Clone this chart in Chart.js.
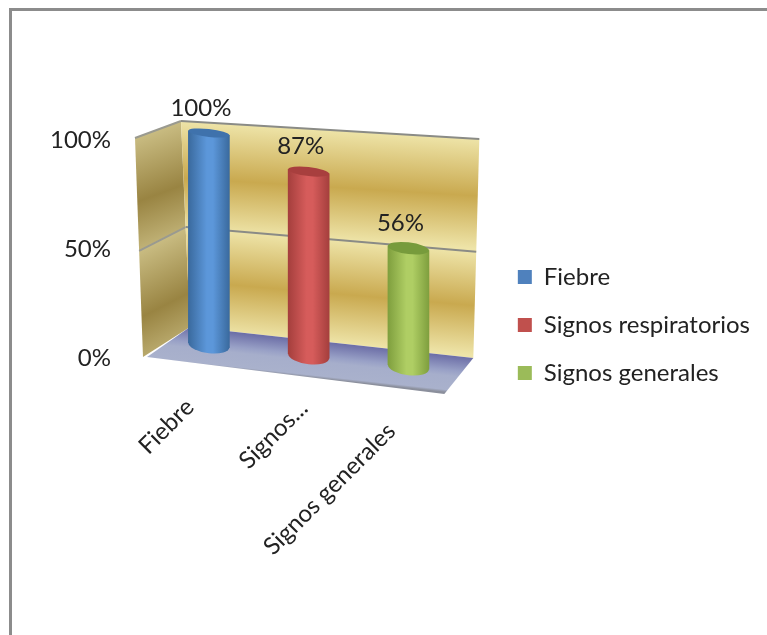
<!DOCTYPE html>
<html>
<head>
<meta charset="utf-8">
<title>Signos</title>
<script src="https://cdn.jsdelivr.net/npm/chart.js@4"></script>
<style>
  html, body { margin: 0; height: 100%; background: #fff; overflow: hidden; }
  #frame { position: absolute; left: 9px; top: 8px; width: 800px; height: 700px; border-left: 3px solid #8c8c8c; border-top: 3px solid #8c8c8c; }
  #wrap { position: absolute; left: 0; top: 0; width: 767px; height: 635px; }
</style>
</head>
<body>
<div id="frame"></div>
<div id="wrap"><canvas id="myChart" width="767" height="635"></canvas></div>
<script>
const categories = ["Fiebre", "Signos respiratorios", "Signos generales"]
const tickLabels = ["Fiebre", "Signos...", "Signos generales"]
const values = [100, 87, 56]
const axisTicks = [0, 50, 100]

const legendColors = ["#4F81BD", "#C0504D", "#9BBB59"]
// edge, highlight and cap shades of each cylinder
const barEdges = ["#3A6A9E", "#A53F3D", "#7F9F3E"]
const barLights = ["#5C97DA", "#D65C5B", "#AFCE64"]
const barCaps = ["#3F72AC", "#A83F3E", "#779B3C"]

const TEXT_FONT = { family: "Lato", size: 24 }
const TEXT_COLOR = "#222222"
const FLOOR_SLOPE = 0.11 // the floor falls to the right, bars follow it
const labelNudge = [[-19, 0], [-5, 1], [-17, 24]] // where the rotated names end

function barGradient(ctx, center, i) {
  const half = 20.5
  const g = ctx.createLinearGradient(center - half, 0, center + half, 0)
  g.addColorStop(0, barEdges[i])
  g.addColorStop(0.45, barLights[i])
  g.addColorStop(0.6, barLights[i])
  g.addColorStop(1, barEdges[i])
  return g
}

function mix(a, b, t) {
  return [a[0] + (b[0] - a[0]) * t, a[1] + (b[1] - a[1]) * t]
}

function polygon(ctx, pts, fill) {
  ctx.beginPath()
  pts.forEach((p, i) => i ? ctx.lineTo(p[0], p[1]) : ctx.moveTo(p[0], p[1]))
  ctx.closePath()
  ctx.fillStyle = fill
  ctx.fill()
}

// one wall, banded between the gridlines
function drawWall(ctx, topA, botA, topB, botB, light, dark, lineColor) {
  const frac = v => { const f = 1 - v / 100; return f + 0.06 * f * (1 - f) }
  for (let n = 0; n < axisTicks.length - 1; n++) {
    const hi = frac(axisTicks[n + 1]), lo = frac(axisTicks[n])
    const a1 = mix(topA, botA, hi), a2 = mix(topA, botA, lo)
    const b1 = mix(topB, botB, hi), b2 = mix(topB, botB, lo)
    const m1 = mix(a1, b1, 0.5), m2 = mix(a2, b2, 0.5)
    const slope = (b1[1] - a1[1]) / (b1[0] - a1[0])
    const h = m2[1] - m1[1]
    const g = ctx.createLinearGradient(m1[0], m1[1], m1[0] - slope * h, m1[1] + h)
    g.addColorStop(0, light)
    g.addColorStop(0.52, dark)
    g.addColorStop(1, light)
    polygon(ctx, [a1, b1, b2, a2], g)
  }
  ctx.strokeStyle = lineColor
  ctx.lineWidth = 2
  axisTicks.slice(1).forEach(v => {
    const a = mix(topA, botA, frac(v)), b = mix(topB, botB, frac(v))
    ctx.beginPath()
    ctx.moveTo(a[0], a[1])
    ctx.lineTo(b[0], b[1])
    ctx.stroke()
  })
}

// box behind the bars: side wall, back wall and floor, hung on the axis
const wallsPlugin = {
  id: "walls",
  beforeDatasetsDraw(chart) {
    const ctx = chart.ctx
    const area = chart.chartArea
    const y0 = chart.scales.y.getPixelForValue(0)
    const y100 = chart.scales.y.getPixelForValue(100)

    const sideTop = [area.left - 24, y100 - 2]
    const sideBot = [area.left - 16, y0 - 1]
    const backTopL = [area.left + 22, y100 - 19]
    const backBotL = [area.left + 31, y0 - 31]
    const backTopR = [area.right + 21, y100 - 1]
    const backBotR = [area.right + 15, y0]
    const floorFront = [area.right - 14, y0 + 36]

    ctx.save()
    drawWall(ctx, sideTop, sideBot, backTopL, backBotL, "#C9BC82", "#998442", "#9a9a90")
    drawWall(ctx, backTopL, backBotL, backTopR, backBotR, "#EEE4A8", "#C9A94F", "#8a8b86")

    const floor = [backBotL, backBotR, floorFront, [sideBot[0] + 4, sideBot[1]]]
    const g = ctx.createLinearGradient(area.left + 141, y0 - 19, area.left + 137, y0 + 18)
    g.addColorStop(0, "#6B6DA6")
    g.addColorStop(0.4, "#98A0C6")
    g.addColorStop(0.55, "#A6AECB")
    g.addColorStop(0.93, "#A9B1CC")
    g.addColorStop(1, "#8B8F9C")
    polygon(ctx, floor, g)
    ctx.restore()
  }
}

// skews the bars along the floor and adds the round ends
const cylinderPlugin = {
  id: "cylinders",
  beforeDatasetDraw(chart, args) {
    const ctx = chart.ctx
    const x0 = chart.scales.x.getPixelForValue(0)
    ctx.save()
    ctx.transform(1, FLOOR_SLOPE, 0, 1, 0, -FLOOR_SLOPE * x0)
    args.meta.data.forEach((bar, i) => {
      ctx.beginPath()
      ctx.ellipse(bar.x, bar.base, bar.width / 2, capRadius(chart, bar.base), 0, 0, Math.PI * 2)
      ctx.fillStyle = barGradient(ctx, bar.x, i)
      ctx.fill()
    })
  },
  afterDatasetDraw(chart, args) {
    const ctx = chart.ctx
    args.meta.data.forEach((bar, i) => {
      ctx.beginPath()
      ctx.ellipse(bar.x, bar.y, bar.width / 2, capRadius(chart, bar.y), 0, 0, Math.PI * 2)
      ctx.fillStyle = barCaps[i]
      ctx.fill()
    })
    ctx.restore()

    // value over each bar
    const x0 = chart.scales.x.getPixelForValue(0)
    ctx.save()
    ctx.font = TEXT_FONT.size + "px " + TEXT_FONT.family
    ctx.fillStyle = TEXT_COLOR
    ctx.textAlign = "center"
    ctx.textBaseline = "middle"
    args.meta.data.forEach((bar, i) => {
      const y = bar.y + FLOOR_SLOPE * (bar.x - x0)
      ctx.fillText(values[i] + "%", bar.x - 8, y - 25)
    })
    ctx.restore()
  }
}

// seen from above, ends lower down look rounder
function capRadius(chart, y) {
  return 4 + (y - chart.chartArea.top) * 0.02
}

// the category names do not end on one line here
const tickNudgePlugin = {
  id: "tickNudge",
  afterLayout(chart) {
    chart.scales.x.bottom = chart.height // long names run past the axis box
  },
  beforeDraw(chart) {
    const scale = chart.scales.x
    scale.getLabelItems().forEach((item, i) => {
      if (item.nudged) return
      item.options.translation[0] += labelNudge[i][0]
      item.options.translation[1] += labelNudge[i][1]
      item.nudged = true
    })
  }
}

var ctx = document.getElementById("myChart").getContext("2d")
var chart = new Chart(ctx, {
  type: "bar",
  plugins: [wallsPlugin, cylinderPlugin, tickNudgePlugin],
  data: {
    labels: categories,
    datasets: [{
      data: values,
      yAxisID: "barAxis",
      barThickness: 41,
      clip: false,
      backgroundColor: function (c) {
        if (c.dataIndex === undefined || !c.chart.scales.x) return legendColors[0]
        return barGradient(c.chart.ctx, c.chart.scales.x.getPixelForValue(c.dataIndex), c.dataIndex)
      }
    }]
  },
  options: {
    responsive: false,
    animation: false,
    layout: { padding: { top: 133, left: 0, right: 7, bottom: 118 } },
    scales: {
      x: {
        grid: { display: false },
        border: { display: false },
        ticks: {
          font: TEXT_FONT,
          color: TEXT_COLOR,
          minRotation: 45,
          maxRotation: 45,
          autoSkip: false,
          padding: 27,
          callback: (v, i) => tickLabels[i]
        },
        afterFit: axis => { axis.height = 159 }
      },
      y: {
        position: "left",
        min: 0,
        max: 103.2,
        grid: { display: false, drawTicks: false },
        border: { display: false },
        afterBuildTicks: axis => { axis.ticks = axisTicks.map(v => ({ value: v })) },
        ticks: {
          font: TEXT_FONT,
          color: TEXT_COLOR,
          padding: 48,
          callback: v => v + "%"
        },
        afterFit: axis => { axis.width = 159 }
      },
      // bars stand a little behind the labelled axis, so they get their own scale
      barAxis: {
        position: "right",
        min: -6.13,
        max: 100,
        grid: { display: false, drawTicks: false },
        border: { display: false },
        ticks: { display: false },
        afterFit: axis => { axis.width = 35.5 }
      }
    },
    plugins: {
      tooltip: { enabled: false },
      legend: {
        position: "right",
        maxWidth: 300,
        labels: {
          font: TEXT_FONT,
          color: TEXT_COLOR,
          boxWidth: 14,
          boxHeight: 14,
          padding: 24,
          generateLabels: () => categories.map((name, i) => ({
            text: name,
            fillStyle: legendColors[i],
            strokeStyle: legendColors[i],
            fontColor: TEXT_COLOR,
            lineWidth: 0,
            hidden: false,
            index: i,
            datasetIndex: 0
          }))
        }
      }
    }
  }
})
</script>
</body>
</html>
